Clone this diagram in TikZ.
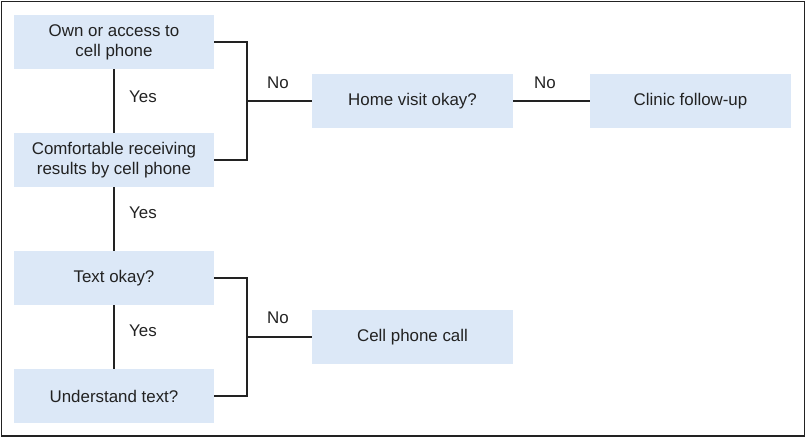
\documentclass[tikz,border=0pt]{standalone}
\usepackage{fontspec}
\setmainfont{Liberation Sans}
\definecolor{boxblue}{HTML}{DCE8F7}
\definecolor{txt}{HTML}{222222}
\begin{document}
\begin{tikzpicture}[x=1pt,y=-1pt,
  fbox/.style={fill=boxblue,draw=none,minimum width=200pt,minimum height=54pt,
    align=center,text=txt,font=\fontsize{16.9}{20}\selectfont,inner sep=0pt},
  lbl/.style={text=txt,font=\fontsize{16.9}{20}\selectfont,inner sep=0pt},
  conn/.style={line width=2.5pt,draw=txt}]
\useasboundingbox (0,0) rectangle (807,438);
\draw[line width=1.4pt,draw=txt] (1.5,1.5) rectangle (804.5,436);
\node[fbox] (own) at (114,42) {Own or access to\\cell phone};
\node[fbox] (comf) at (114,160) {Comfortable receiving\\results by cell phone};
\node[fbox] (text) at (114,278) {Text okay?};
\node[fbox] (und) at (114,396) {Understand text?};
\node[fbox,minimum width=201pt] (home) at (412.5,101) {Home visit okay?};
\node[fbox,minimum width=201pt] (clinic) at (690.5,101) {Clinic follow-up};
\node[fbox,minimum width=201pt] (call) at (412.5,337) {Cell phone call};
\coordinate (b1) at (247,101);
\coordinate (b2) at (247,337);
\draw[conn] (own.south) -- (comf.north);
\draw[conn] (comf.south) -- (text.north);
\draw[conn] (text.south) -- (und.north);
\draw[conn] (own.east) -| (b1) |- (comf.east);
\draw[conn] (b1) -- (home.west);
\draw[conn] (home.east) -- (clinic.west);
\draw[conn] (text.east) -| (b2) |- (und.east);
\draw[conn] (b2) -- (call.west);
\node[lbl] (y1) at (143,97) {Yes};
\node[lbl] (y2) at (143,213) {Yes};
\node[lbl] (y3) at (143,331) {Yes};
\node[lbl] (n1) at (278,83) {No};
\node[lbl] (n2) at (545,83) {No};
\node[lbl] (n3) at (278,318) {No};
\end{tikzpicture}
\end{document}
